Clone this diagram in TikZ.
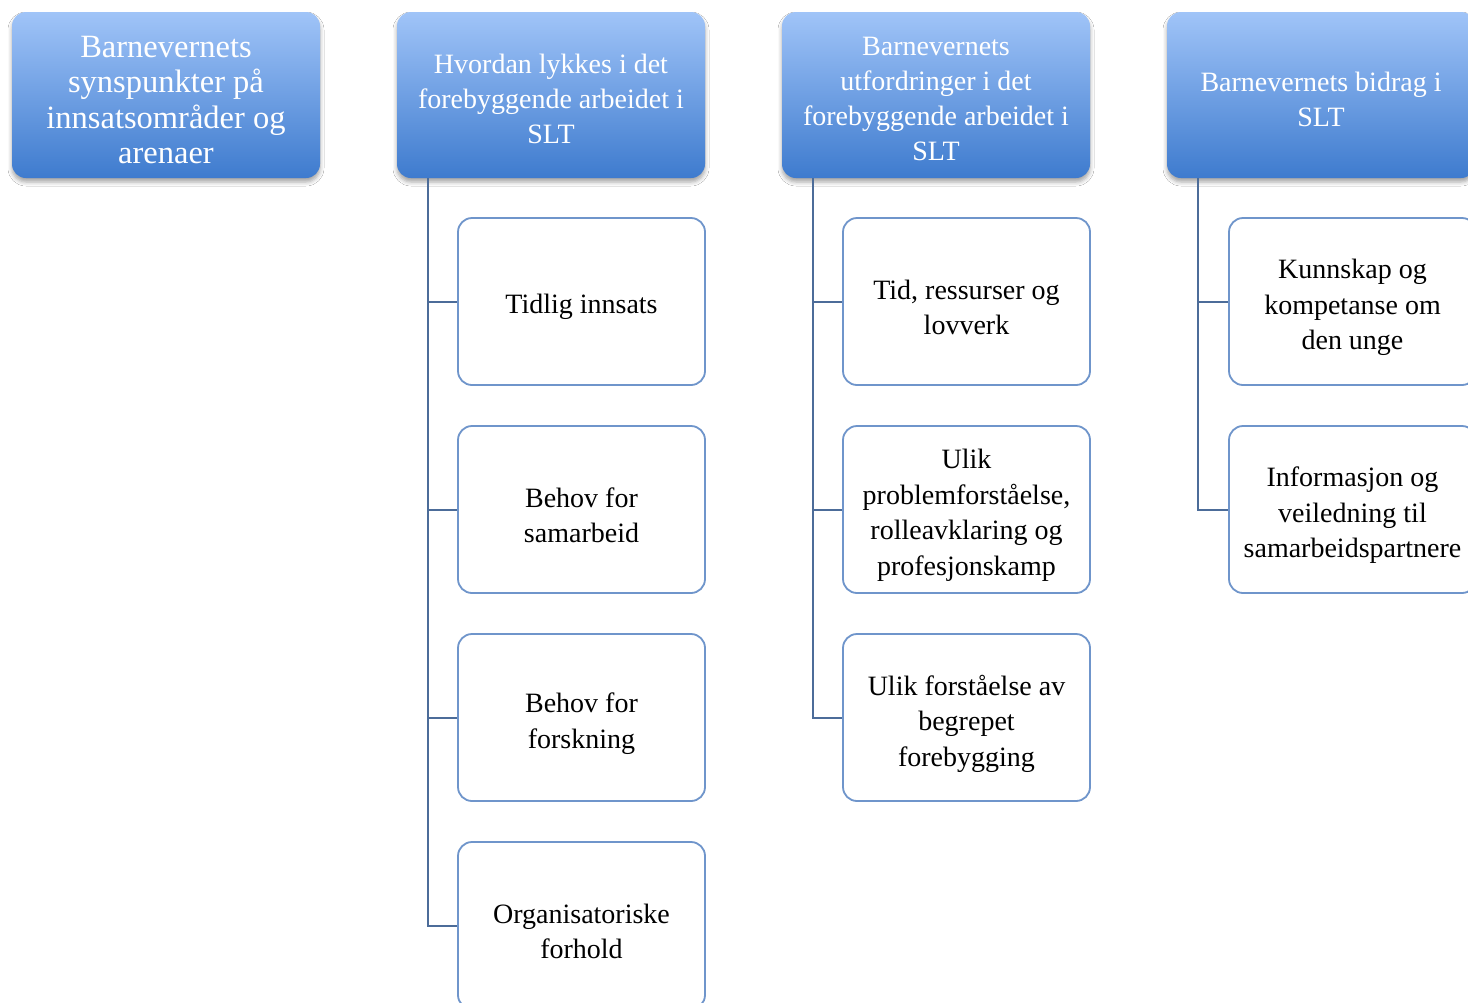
\documentclass[tikz,border=0pt]{standalone}
\usepackage{fontspec}
\setmainfont{Liberation Serif}
\usetikzlibrary{shadows,shadows.blur}
\definecolor{hdtop}{HTML}{A0C4F8}
\definecolor{hdbot}{HTML}{3E7BCE}
\definecolor{edgeblue}{HTML}{6F95CB}
\definecolor{linec}{HTML}{4C6C99}
\begin{document}
\begin{tikzpicture}[x=1pt,y=-1pt,
  headbox/.style={rounded corners=14pt, top color=hdtop, bottom color=hdbot,
    minimum width=308pt, minimum height=166pt, inner sep=0pt,
    blur shadow={shadow xshift=0pt, shadow yshift=-4pt, shadow blur radius=4pt, shadow opacity=35}},
  headtext/.style={text=white, align=center, font=\fontsize{28}{35}\selectfont, inner sep=0pt, yshift=-4pt},
  leafbox/.style={rounded corners=14pt, draw=edgeblue, line width=1.8pt, fill=white,
    minimum width=247pt, minimum height=167pt, inner sep=0pt},
  leaftext/.style={align=center, font=\fontsize{28}{35.5}\selectfont, inner sep=0pt, yshift=-6pt},
  conn/.style={draw=linec, line width=2pt}]
\useasboundingbox (0,0) rectangle (1468,1002);
\clip (0,0) rectangle (1468,1002);
\fill[white] (0,0) rectangle (1468,1002);
% headers
\node[headbox, label={[headtext, font=\fontsize{32.5}{35.5}\selectfont, yshift=-1pt]center:{Barnevernets\\synspunkter på\\innsatsområder og\\arenaer}}] (h1) at (166,95) {};
\node[headbox, label={[headtext]center:{Hvordan lykkes i det\\forebyggende arbeidet i\\SLT}}] (h2) at (551,95) {};
\node[headbox, label={[headtext]center:{Barnevernets\\utfordringer i det\\forebyggende arbeidet i\\SLT}}] (h3) at (936,95) {};
\node[headbox, label={[headtext]center:{Barnevernets bidrag i\\SLT}}] (h4) at (1321,95) {};
% trunk start points
\coordinate (t2) at ([xshift=31pt]h2.south west);
\coordinate (t3) at ([xshift=31pt]h3.south west);
\coordinate (t4) at ([xshift=31pt]h4.south west);
% column 2
\node[leafbox, label={[leaftext, yshift=1pt]center:{Tidlig innsats}}] (c21) at (581.5,301.5) {};
\node[leafbox, label={[leaftext]center:{Behov for\\samarbeid}}] (c22) at (581.5,509.5) {};
\node[leafbox, label={[leaftext]center:{Behov for\\forskning}}] (c23) at (581.5,717.5) {};
\node[leafbox, label={[leaftext]center:{Organisatoriske\\forhold}}] (c24) at (581.5,925.5) {};
% column 3
\node[leafbox, label={[leaftext]center:{Tid, ressurser og\\lovverk}}] (c31) at (966.5,301.5) {};
\node[leafbox, label={[leaftext]center:{Ulik\\problemforståelse,\\rolleavklaring og\\profesjonskamp}}] (c32) at (966.5,509.5) {};
\node[leafbox, label={[leaftext]center:{Ulik forståelse av\\begrepet\\forebygging}}] (c33) at (966.5,717.5) {};
% column 4
\node[leafbox, label={[leaftext]center:{Kunnskap og\\kompetanse om\\den unge}}] (c41) at (1352.5,301.5) {};
\node[leafbox, label={[leaftext]center:{Informasjon og\\veiledning til\\samarbeidspartnere}}] (c42) at (1352.5,509.5) {};
% connectors
\foreach \c in {c21,c22,c23,c24} \draw[conn] (t2) |- (\c.west);
\foreach \c in {c31,c32,c33} \draw[conn] (t3) |- (\c.west);
\foreach \c in {c41,c42} \draw[conn] (t4) |- (\c.west);
\end{tikzpicture}
\end{document}
